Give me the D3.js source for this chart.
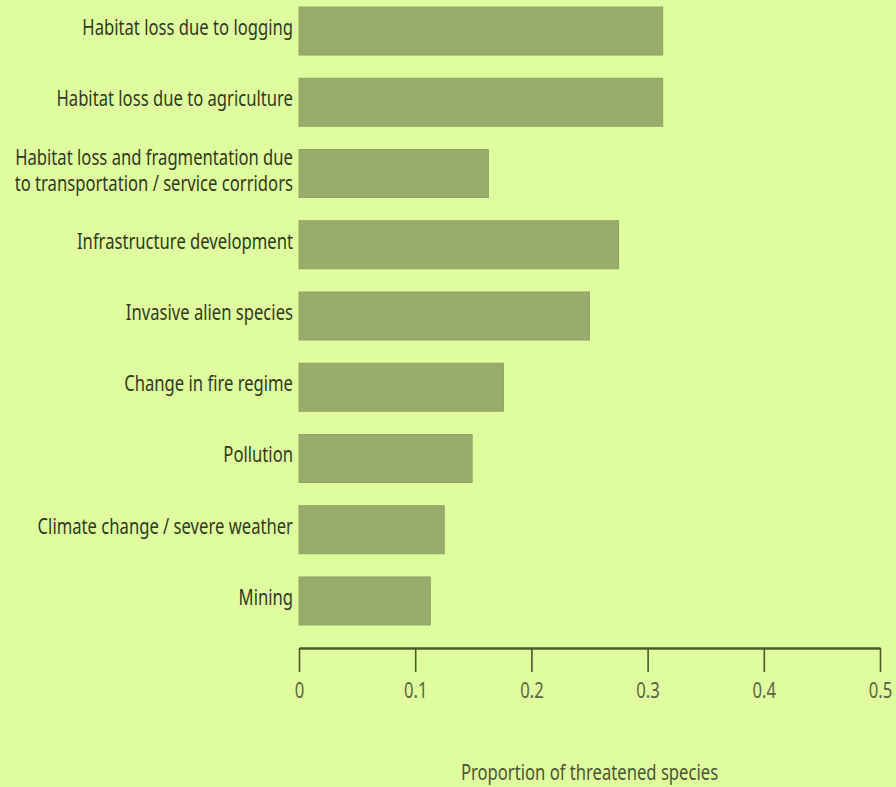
<!DOCTYPE html>
<html>
<head>
<meta charset="utf-8">
<script src="https://cdn.jsdelivr.net/npm/d3@7/dist/d3.min.js"></script>
<style>
  html, body { margin: 0; padding: 0; background: #dffd9f; }
  svg { display: block; }
  text { font-family: "Noto Sans", "Open Sans", sans-serif; }
</style>
</head>
<body>
<svg id="chart" width="896" height="787"></svg>
<script>
const categories = [
  "Habitat loss due to logging",
  "Habitat loss due to agriculture",
  "Habitat loss and fragmentation due\nto transportation / service corridors",
  "Infrastructure development",
  "Invasive alien species",
  "Change in fire regime",
  "Pollution",
  "Climate change / severe weather",
  "Mining"
];
const values = [0.313, 0.313, 0.163, 0.275, 0.250, 0.176, 0.149, 0.125, 0.113];
const tickValues = [0, 0.1, 0.2, 0.3, 0.4, 0.5];
const tickLabels = ["0", "0.1", "0.2", "0.3", "0.4", "0.5"];
const axisTitle = "Proportion of threatened species";

const svg = d3.select("#chart");
const W = 896, H = 787;
const sx = 0.756; // horizontal text compression seen in reference
const fontSize = 22;

svg.append("rect").attr("width", W).attr("height", H).attr("fill", "#dffd9f");

const x = d3.scaleLinear().domain([0, 0.5]).range([299, 880]);
const y = d3.scaleBand().domain(categories).range([-4.6, 636.6])
  .paddingInner(0.326).paddingOuter(0.163);

// bars
svg.append("g").selectAll("rect").data(categories).join("rect")
  .attr("x", x(0))
  .attr("y", d => y(d))
  .attr("width", (d, i) => x(values[i]) - x(0))
  .attr("height", y.bandwidth())
  .attr("fill", "#98ad6c")
  .attr("stroke", "#8fa564")
  .attr("stroke-width", 1);

// category labels
const lab = svg.append("g").selectAll("text").data(categories).join("text")
  .attr("transform", d => `translate(${x(0) - 6},${y(d) + y.bandwidth() / 2 + 4}) scale(${sx},1)`)
  .attr("text-anchor", "end")
  .attr("font-size", fontSize)
  .attr("fill", "#2f3a1c");
lab.each(function(d) {
  const lines = d.split("\n");
  const t = d3.select(this);
  const lh = 26;
  lines.forEach((ln, k) => {
    t.append("tspan").attr("x", 0)
      .attr("y", (k - (lines.length - 1) / 2) * lh)
      .text(ln);
  });
});

// x axis
const axisY = 648;
const ax = svg.append("g").attr("transform", `translate(0,${axisY})`)
  .call(d3.axisBottom(x).tickValues(tickValues)
    .tickFormat((d, i) => tickLabels[i])
    .tickSize(24).tickSizeOuter(0).tickPadding(10));
ax.select(".domain").attr("stroke", "#4b5a2b").attr("stroke-width", 2.5);
ax.selectAll(".tick line").attr("stroke", "#4b5a2b").attr("stroke-width", 1.6);
ax.selectAll(".tick text")
  .attr("font-size", fontSize)
  .attr("font-family", "Noto Sans, Open Sans, sans-serif")
  .attr("fill", "#59653f")
  .attr("transform", `scale(${sx},1)`);

// axis title
svg.append("text")
  .attr("transform", `translate(${(x(0) + x(0.5)) / 2},780) scale(${sx},1)`)
  .attr("text-anchor", "middle")
  .attr("font-size", fontSize)
  .attr("fill", "#4a5532")
  .text(axisTitle);
</script>
</body>
</html>
